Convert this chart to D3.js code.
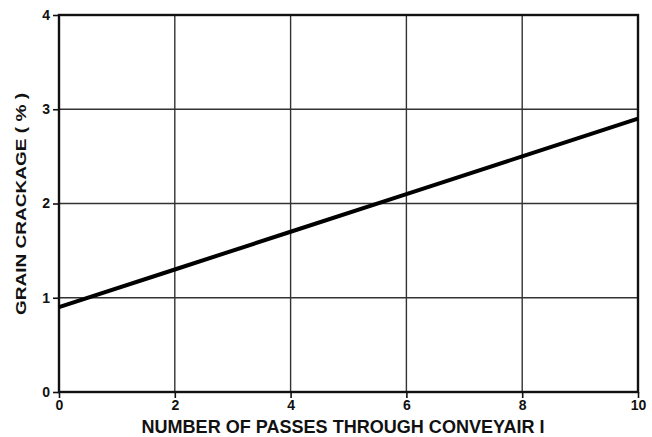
<!DOCTYPE html>
<html>
<head>
<meta charset="utf-8">
<script src="https://cdn.jsdelivr.net/npm/d3@7"></script>
<style>
  body { margin: 0; background: #fff; }
  svg text { font-family: "Liberation Sans", Arial, sans-serif; font-weight: bold; fill: #111; }
</style>
</head>
<body>
<div id="chart"></div>
<script>
// grain crackage vs passes through conveyair
const passes = [0, 2, 4, 6, 8, 10];
const crackage = [0.9, 1.3, 1.7, 2.1, 2.5, 2.9];
const xTicks = [0, 2, 4, 6, 8, 10];
const yTicks = [0, 1, 2, 3, 4];
const xTitle = "NUMBER OF PASSES THROUGH CONVEYAIR I";
const yTitle = "GRAIN CRACKAGE ( % )";

const width = 652, height = 437;
const margin = { top: 15, right: 14, bottom: 45, left: 59 };

const svg = d3.select("#chart").append("svg")
  .attr("width", width)
  .attr("height", height);

const x = d3.scaleLinear().domain([0, 10]).range([margin.left, width - margin.right]);
const y = d3.scaleLinear().domain([0, 4]).range([height - margin.bottom, margin.top]);

// grid
svg.append("g").selectAll("line.vg")
  .data(xTicks.slice(1, -1))
  .enter().append("line")
  .attr("x1", d => x(d)).attr("x2", d => x(d))
  .attr("y1", y(4)).attr("y2", y(0))
  .attr("stroke", "#333").attr("stroke-width", 1.4);

svg.append("g").selectAll("line.hg")
  .data(yTicks.slice(1, -1))
  .enter().append("line")
  .attr("x1", x(0)).attr("x2", x(10))
  .attr("y1", d => y(d)).attr("y2", d => y(d))
  .attr("stroke", "#333").attr("stroke-width", 1.4);

// frame
svg.append("rect")
  .attr("x", x(0)).attr("y", y(4))
  .attr("width", x(10) - x(0)).attr("height", y(0) - y(4))
  .attr("fill", "none").attr("stroke", "#111").attr("stroke-width", 2.4);

// axes
const xAxis = svg.append("g")
  .attr("transform", `translate(0,${y(0)})`)
  .call(d3.axisBottom(x).tickValues(xTicks).tickSize(6).tickPadding(2).tickFormat(d3.format("d")));
const yAxis = svg.append("g")
  .attr("transform", `translate(${x(0)},0)`)
  .call(d3.axisLeft(y).tickValues(yTicks).tickSize(6).tickPadding(3).tickFormat(d3.format("d")));

[xAxis, yAxis].forEach(g => {
  g.select(".domain").remove();
  g.selectAll(".tick line").attr("stroke", "#111").attr("stroke-width", 1.6);
  g.selectAll(".tick text").style("font-size", "14px").style("font-weight", "bold").attr("fill", "#111");
});

// data line
const line = d3.line()
  .x((d, i) => x(passes[i]))
  .y(d => y(d));

svg.append("path")
  .datum(crackage)
  .attr("fill", "none")
  .attr("stroke", "#000")
  .attr("stroke-width", 4)
  .attr("d", line);

// titles
svg.append("text")
  .attr("x", 343)
  .attr("y", 433)
  .attr("text-anchor", "middle")
  .attr("textLength", 403)
  .attr("lengthAdjust", "spacingAndGlyphs")
  .style("font-size", "18px")
  .text(xTitle);

svg.append("text")
  .attr("transform", `translate(26,${204}) rotate(-90)`)
  .attr("text-anchor", "middle")
  .attr("textLength", 222)
  .attr("lengthAdjust", "spacingAndGlyphs")
  .style("font-size", "15px")
  .text(yTitle);
</script>
</body>
</html>
